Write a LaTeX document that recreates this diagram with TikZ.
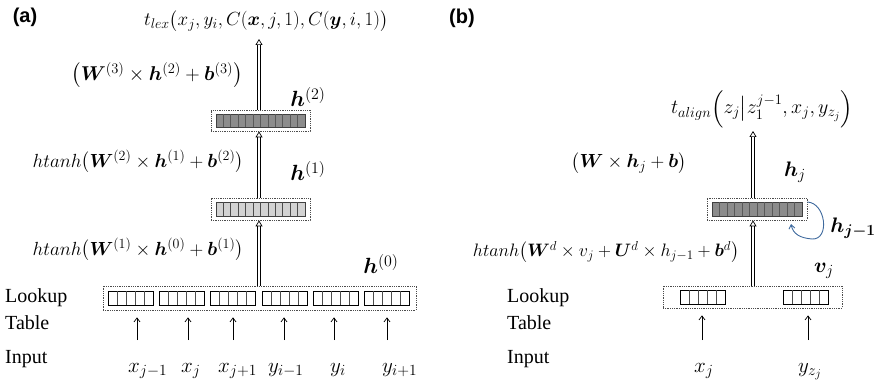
\RequirePackage{fix-cm}
\documentclass[tikz,border=0pt]{standalone}
\usepackage{amsmath,bm}
\usepackage{fontspec}
\setmainfont{Liberation Serif}
\setsansfont{Liberation Sans}
\DeclareMathSizes{18}{18}{13}{10}
\DeclareMathSizes{19}{19}{14}{10.5}
\DeclareMathSizes{20}{20}{14.5}{11}
\DeclareMathSizes{21}{21}{15.5}{12}
\DeclareMathSizes{22}{22}{16}{12}
\usetikzlibrary{arrows.meta,calc}
\definecolor{barDark}{HTML}{8C8C8C}
\definecolor{barLight}{HTML}{D3D3D3}
\definecolor{curveBlue}{HTML}{3F6A9E}
\tikzset{
 panel/.style={font=\sffamily\bfseries\fontsize{20}{24}\selectfont, inner sep=0pt},
 lbl/.style={font=\rmfamily\fontsize{20}{24}\selectfont, anchor=west, inner sep=0pt},
 mth/.style={font=\fontsize{19}{22}\selectfont, inner sep=0pt},
 mthl/.style={font=\fontsize{20}{23}\selectfont, inner sep=0pt},
 mths/.style={font=\fontsize{18}{21}\selectfont, inner sep=0pt},
 hl/.style={font=\fontsize{21}{24}\selectfont, inner sep=0pt},
 hll/.style={font=\fontsize{22}{25}\selectfont, inner sep=0pt},
 inl/.style={font=\fontsize{21}{24}\selectfont, inner sep=0pt, anchor=base west},
 dbox/.style={draw=black!70, densely dotted, line width=0.8pt, inner sep=0pt},
 dblarrow/.style={double=white, double distance=2pt, line width=0.7pt, -{Triangle[open,length=6pt,width=7pt]}},
 sarrow/.style={-{Straight Barb[length=4pt,width=6pt]}, line width=0.7pt},
 barcell/.style={draw=black!75, line width=0.9pt},
 grpcell/.style={draw=black, line width=0.9pt, fill=white},
}
\begin{document}
\begin{tikzpicture}[x=1pt,y=-1pt]
\useasboundingbox (0,0) rectangle (880,382);
% ---------------- panel (a) ----------------
\node[panel] (pa) at (25,17) {(a)};
\node[mth] (tlex) at (266,21) {$t_{lex}\bigl(x_j, y_i, C(\bm{x}, j, 1), C(\bm{y}, i, 1)\bigr)$};
\coordinate (topa) at (259,39);
\node[mthl] (f3) at (157,75) {$\bigl(\bm{W}^{(3)}\times\bm{h}^{(2)}+\bm{b}^{(3)}\bigr)$};
\node[mth] (f2) at (138,162) {$htanh\bigl(\bm{W}^{(2)}\times\bm{h}^{(1)}+\bm{b}^{(2)}\bigr)$};
\node[mth] (f1) at (138,250) {$htanh\bigl(\bm{W}^{(1)}\times\bm{h}^{(0)}+\bm{b}^{(1)}\bigr)$};
\node[hll] (l2) at (308,97) {$\bm{h}^{(2)}$};
\node[hll] (l1) at (308,171) {$\bm{h}^{(1)}$};
\node[hll] (l0) at (381,264) {$\bm{h}^{(0)}$};
% boxes
\node[dbox, minimum width=99pt, minimum height=21pt] (h2) at (260.5,120.5) {};
\node[dbox, minimum width=99pt, minimum height=22pt] (h1) at (260.5,209) {};
\node[dbox, minimum width=313pt, minimum height=24pt] (h0) at (259.5,298) {};
% bars
\filldraw[barcell, fill=barDark] (216,114) rectangle (305,127);
\foreach \i in {1,...,11} \draw[black!65, line width=0.7pt] ({216+\i*89/12},114) -- ++(0,13);
\filldraw[barcell, fill=barLight] (216,202) rectangle (305,216);
\foreach \i in {1,...,11} \draw[black!70, line width=0.7pt] ({216+\i*89/12},202) -- ++(0,14);
\foreach \sx in {108,159,210,262,313,364}{
  \filldraw[grpcell] (\sx,291) rectangle ({\sx+45},305);
  \foreach \k in {1,...,4} \draw[black!70, line width=0.6pt] ({\sx+\k*9},291) -- ++(0,14);
}
% double arrows
\draw[dblarrow] (h2.north -| topa) -- (topa);
\draw[dblarrow] (h1.north -| topa) -- (h2.south -| topa);
\draw[dblarrow] (h0.north -| topa) -- (h1.south -| topa);
% row labels
\node[lbl] (lka) at (5,298) {Lookup};
\node[lbl] (tba) at (5,323) {Table};
\node[lbl] (ina) at (5,359) {Input};
% inputs
\node[inl] (i1) at (128,372) {$x_{j-1}$};
\node[inl] (i2) at (181,372) {$x_j$};
\node[inl] (i3) at (218,372) {$x_{j+1}$};
\node[inl] (i4) at (268,372) {$y_{i-1}$};
\node[inl] (i5) at (330,372) {$y_i$};
\node[inl] (i6) at (382,372) {$y_{i+1}$};
\foreach \n/\x in {1/137,2/188,3/233,4/284,5/334,6/387}{
  \coordinate (a\n) at (\x,340);
  \draw[sarrow] (a\n) -- (a\n |- h0.south) [shorten >=7pt];
}
% ---------------- panel (b) ----------------
\node[panel] (pb) at (462,18) {(b)};
\node[mthl] (talign) at (762,109) {$t_{align}\Bigl(z_j\big|z_1^{j-1}, x_j, y_{z_j}\Bigr)$};
\coordinate (topb) at (753,131);
\node[mth] (g2) at (629,163) {$\bigl(\bm{W}\times\bm{h}_j+\bm{b}\bigr)$};
\node[mths] (g1) at (606,252) {$htanh\bigl(\bm{W}^d\times v_j+\bm{U}^d\times h_{j-1}+\bm{b}^d\bigr)$};
\node[hl] (lhj) at (795,172) {$\bm{h}_j$};
\node[hl] (lhj1) at (853,228) {$\bm{h}_{\bm{j-1}}$};
\node[hl] (lvj) at (824,271) {$\bm{v}_j$};
\node[dbox, minimum width=100pt, minimum height=22pt] (hj) at (757,209) {};
\node[dbox, minimum width=179pt, minimum height=22pt] (vj) at (752.5,297) {};
\filldraw[barcell, fill=barDark] (712,202) rectangle (802,216);
\foreach \i in {1,...,11} \draw[black!65, line width=0.7pt] ({712+\i*90/12},202) -- ++(0,14);
\foreach \sx in {680,783}{
  \filldraw[grpcell] (\sx,290) rectangle ({\sx+45},304);
  \foreach \k in {1,...,4} \draw[black!70, line width=0.6pt] ({\sx+\k*9},290) -- ++(0,14);
}
\draw[dblarrow] (hj.north -| topb) -- (topb);
\draw[dblarrow] (vj.north -| topb) -- (hj.south -| topb);
\coordinate (loopEnd) at (791,224);
\draw[curveBlue, line width=0.9pt, -{Straight Barb[length=4pt,width=6pt]}]
  ([yshift=7pt]hj.east) .. controls (826,203) and (830,240) .. (812,239)
  .. controls (800,238) and (793,234) .. (loopEnd);
\node[lbl] (lkb) at (507,298) {Lookup};
\node[lbl] (tbb) at (507,323) {Table};
\node[lbl] (inb) at (507,359) {Input};
\node[inl] (j1) at (694,372) {$x_j$};
\node[inl] (j2) at (798,372) {$y_{z_j}$};
\foreach \n/\x in {1/702,2/808}{
  \coordinate (b\n) at (\x,340);
  \draw[sarrow] (b\n) -- (b\n |- vj.south) [shorten >=7pt];
}
\end{tikzpicture}
\end{document}
